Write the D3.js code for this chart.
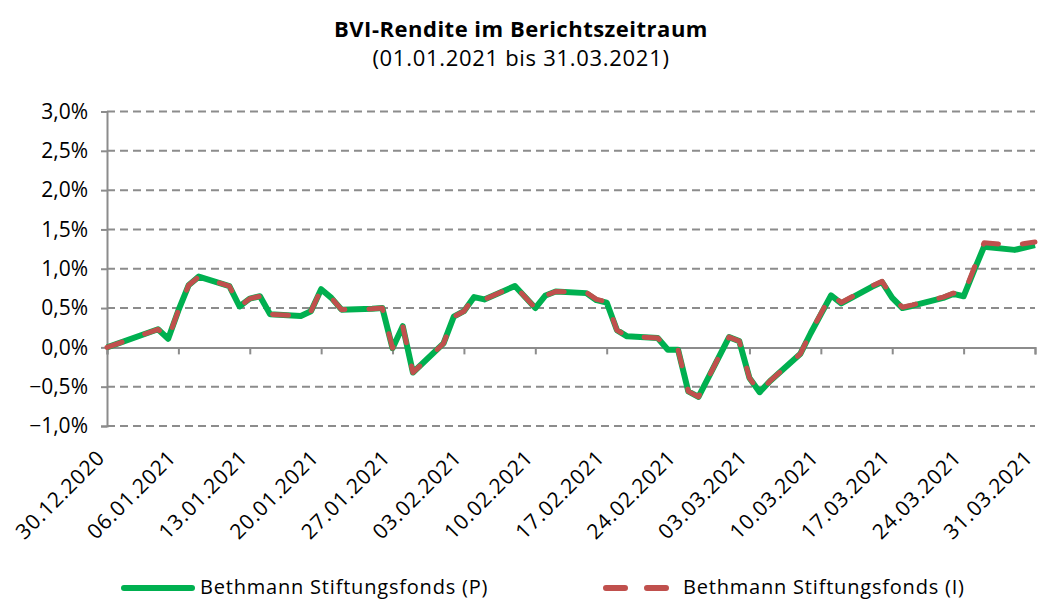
<!DOCTYPE html>
<html>
<head>
<meta charset="utf-8">
<script src="https://cdn.jsdelivr.net/npm/d3@7"></script>
<style>
  body { margin: 0; background: #fff; }
  svg { font-family: "Open Sans", sans-serif; }
</style>
</head>
<body>
<div id="chart"></div>
<script>
// trading days in the reporting period
const dates = [
  "30.12.2020",
  "04.01.2021", "05.01.2021", "06.01.2021", "07.01.2021", "08.01.2021",
  "11.01.2021", "12.01.2021", "13.01.2021", "14.01.2021", "15.01.2021",
  "18.01.2021", "19.01.2021", "20.01.2021", "21.01.2021", "22.01.2021",
  "25.01.2021", "26.01.2021", "27.01.2021", "28.01.2021", "29.01.2021",
  "01.02.2021", "02.02.2021", "03.02.2021", "04.02.2021", "05.02.2021",
  "08.02.2021", "09.02.2021", "10.02.2021", "11.02.2021", "12.02.2021",
  "15.02.2021", "16.02.2021", "17.02.2021", "18.02.2021", "19.02.2021",
  "22.02.2021", "23.02.2021", "24.02.2021", "25.02.2021", "26.02.2021",
  "01.03.2021", "02.03.2021", "03.03.2021", "04.03.2021", "05.03.2021",
  "08.03.2021", "09.03.2021", "10.03.2021", "11.03.2021", "12.03.2021",
  "15.03.2021", "16.03.2021", "17.03.2021", "18.03.2021", "19.03.2021",
  "22.03.2021", "23.03.2021", "24.03.2021", "25.03.2021", "26.03.2021",
  "29.03.2021", "30.03.2021", "31.03.2021"
];

// BVI return in % - share class P
const seriesP = [
  0.00,
  0.23, 0.11, 0.47, 0.79, 0.90,
  0.78, 0.52, 0.62, 0.65, 0.42,
  0.40, 0.46, 0.74, 0.63, 0.48,
  0.49, 0.50, -0.01, 0.27, -0.32,
  0.05, 0.39, 0.46, 0.64, 0.61,
  0.78, 0.64, 0.50, 0.66, 0.71,
  0.69, 0.60, 0.57, 0.22, 0.14,
  0.12, -0.03, -0.03, -0.56, -0.63,
  0.13, 0.08, -0.39, -0.57, -0.43,
  -0.08, 0.18, 0.42, 0.66, 0.56,
  0.77, 0.83, 0.63, 0.50, 0.53,
  0.63, 0.68, 0.65, 0.97, 1.28,
  1.24, 1.27, 1.30
];

// BVI return in % - share class I
const seriesI = [
  0.00,
  0.23, 0.11, 0.47, 0.79, 0.90,
  0.78, 0.52, 0.62, 0.65, 0.42,
  0.40, 0.46, 0.74, 0.63, 0.48,
  0.49, 0.50, -0.01, 0.27, -0.32,
  0.05, 0.39, 0.46, 0.64, 0.61,
  0.78, 0.64, 0.50, 0.66, 0.71,
  0.70, 0.61, 0.58, 0.22, 0.14,
  0.12, -0.03, -0.03, -0.56, -0.63,
  0.13, 0.08, -0.39, -0.57, -0.43,
  -0.08, 0.19, 0.43, 0.67, 0.57,
  0.78, 0.84, 0.64, 0.51, 0.54,
  0.64, 0.69, 0.67, 1.00, 1.33,
  1.30, 1.32, 1.34
];

const yTicks = [-1.0, -0.5, 0.0, 0.5, 1.0, 1.5, 2.0, 2.5, 3.0];
const xTicks = [
  "30.12.2020", "06.01.2021", "13.01.2021", "20.01.2021", "27.01.2021",
  "03.02.2021", "10.02.2021", "17.02.2021", "24.02.2021", "03.03.2021",
  "10.03.2021", "17.03.2021", "24.03.2021", "31.03.2021"
];
const seriesNames = ["Bethmann Stiftungsfonds (P)", "Bethmann Stiftungsfonds (I)"];

const W = 1039, H = 601;
const parse = d3.timeParse("%d.%m.%Y");
const fmtPct = v => d3.format(".1f")(v).replace(".", ",") + "%";

const x = d3.scaleTime()
  .domain([parse("30.12.2020"), parse("31.03.2021")])
  .range([107, 1035]);
const y = d3.scaleLinear().domain([-1, 3]).range([426, 111.5]);

const svg = d3.select("#chart").append("svg")
  .attr("width", W)
  .attr("height", H)
  .attr("viewBox", [0, 0, W, H]);

// title
svg.append("text")
  .attr("x", 521).attr("y", 37)
  .attr("text-anchor", "middle")
  .attr("font-size", 22).attr("font-weight", "bold").attr("fill", "#000")
  .attr("letter-spacing", 0.5)
  .text("BVI-Rendite im Berichtszeitraum");
svg.append("text")
  .attr("x", 521).attr("y", 66)
  .attr("text-anchor", "middle")
  .attr("font-size", 22).attr("fill", "#000")
  .attr("letter-spacing", 0.7)
  .text("(01.01.2021 bis 31.03.2021)");

const grey = "#8c8c8c";

// horizontal dashed grid
svg.append("g")
  .selectAll("line")
  .data(yTicks.filter(d => d !== 0))
  .join("line")
    .attr("x1", x.range()[0]).attr("x2", x.range()[1])
    .attr("y1", d => y(d)).attr("y2", d => y(d))
    .attr("stroke", grey).attr("stroke-width", 2)
    .attr("stroke-dasharray", "8,5");

// y axis
const yAxis = svg.append("g")
  .attr("transform", `translate(${x.range()[0]},0)`)
  .call(d3.axisLeft(y).tickValues(yTicks).tickFormat(fmtPct).tickSize(6).tickPadding(13));
yAxis.select(".domain").attr("stroke", grey).attr("stroke-width", 2);
yAxis.selectAll(".tick line").attr("stroke", grey).attr("stroke-width", 2);
yAxis.selectAll(".tick text")
  .attr("font-size", 21).attr("fill", "#000")
  .attr("font-family", "Open Sans, sans-serif");

// x axis at zero
const xAxis = svg.append("g")
  .attr("transform", `translate(0,${y(0)})`)
  .call(d3.axisBottom(x).tickValues(xTicks.map(parse)).tickSize(7).tickFormat(""));
xAxis.select(".domain").attr("stroke", grey).attr("stroke-width", 2);
xAxis.selectAll(".tick line").attr("stroke", grey).attr("stroke-width", 2);

// rotated date labels below the plot
svg.append("g")
  .selectAll("text")
  .data(xTicks)
  .join("text")
    .attr("transform", d => `translate(${x(parse(d)) - 1},${y(-1) + 33}) rotate(-45)`)
    .attr("text-anchor", "end")
    .attr("font-size", 21).attr("fill", "#000")
    .attr("letter-spacing", 0.8)
    .text(d => d);

// lines
const line = d3.line()
  .x((d, i) => x(parse(dates[i])))
  .y(d => y(d));

svg.append("path")
  .datum(seriesP)
  .attr("fill", "none")
  .attr("stroke", "#00b050")
  .attr("stroke-width", 6)
  .attr("stroke-linejoin", "round")
  .attr("d", line);

svg.append("path")
  .datum(seriesI)
  .attr("fill", "none")
  .attr("stroke", "#c0504d")
  .attr("stroke-width", 5)
  .attr("stroke-linecap", "round")
  .attr("stroke-linejoin", "round")
  .attr("stroke-dasharray", "16,24")
  .attr("d", line);

// legend
const legend = svg.append("g");
legend.append("line")
  .attr("x1", 124).attr("x2", 192).attr("y1", 588).attr("y2", 588)
  .attr("stroke", "#00b050").attr("stroke-width", 6).attr("stroke-linecap", "round");
legend.append("text")
  .attr("x", 200).attr("y", 594)
  .attr("font-size", 20).attr("fill", "#000")
  .attr("letter-spacing", 0.8)
  .text(seriesNames[0]);
legend.append("line")
  .attr("x1", 606).attr("x2", 668).attr("y1", 588).attr("y2", 588)
  .attr("stroke", "#c0504d").attr("stroke-width", 6).attr("stroke-linecap", "round")
  .attr("stroke-dasharray", "19,22");
legend.append("text")
  .attr("x", 683).attr("y", 594)
  .attr("font-size", 20).attr("fill", "#000")
  .attr("letter-spacing", 0.8)
  .text(seriesNames[1]);
</script>
</body>
</html>
